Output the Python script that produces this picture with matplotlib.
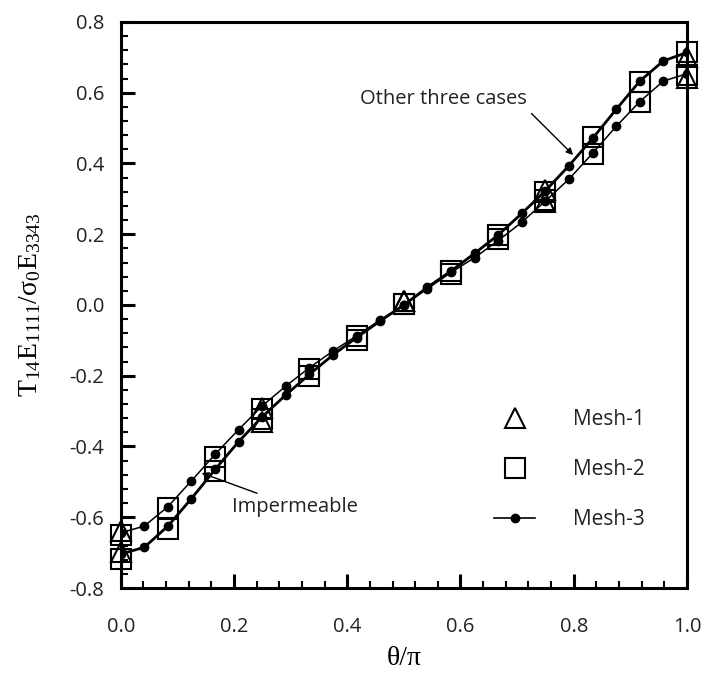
import numpy as np
import matplotlib
matplotlib.use("Agg")
import matplotlib.pyplot as plt
from matplotlib.lines import Line2D
from matplotlib.ticker import MultipleLocator, FuncFormatter

plt.rcParams['mathtext.fontset'] = 'custom'
plt.rcParams['mathtext.rm'] = 'Liberation Serif'
plt.rcParams['mathtext.it'] = 'Liberation Serif:italic'
plt.rcParams['font.family'] = ['Open Sans', 'DejaVu Sans']

# ---- data ----
# Mesh-3 (25 points, theta/pi = k/24)
mesh3_theta = [k / 24 for k in range(25)]
mesh3_other = [-0.704, -0.685, -0.625, -0.547, -0.465, -0.386, -0.316, -0.254,
               -0.196, -0.141, -0.092, -0.045, 0.0, 0.050, 0.096, 0.146, 0.198,
               0.259, 0.323, 0.394, 0.471, 0.553, 0.633, 0.690, 0.714]
mesh3_imperm = [-0.644, -0.625, -0.570, -0.497, -0.422, -0.352, -0.285, -0.229,
                -0.177, -0.130, -0.087, -0.042, 0.0, 0.046, 0.092, 0.134, 0.182,
                0.234, 0.294, 0.356, 0.429, 0.505, 0.575, 0.633, 0.654]
# Mesh-2 (13 points, theta/pi = k/12)
mesh2_theta = [k / 12 for k in range(13)]
mesh2_other = [-0.719, -0.632, -0.469, -0.322, -0.201, -0.099, 0.003, 0.097,
               0.198, 0.320, 0.474, 0.631, 0.716]
mesh2_imperm = [-0.650, -0.573, -0.429, -0.294, -0.180, -0.089, 0.003, 0.088,
                0.186, 0.297, 0.428, 0.575, 0.649]
# Mesh-1 (5 points)
mesh1_theta = [0.0, 0.25, 0.5, 0.75, 1.0]
mesh1_other = [-0.697, -0.330, 0.010, 0.325, 0.702]
mesh1_imperm = [-0.638, -0.290, 0.010, 0.290, 0.641]

legend_labels = ['Mesh-1', 'Mesh-2', 'Mesh-3']

fig = plt.figure(figsize=(7.07, 6.75), dpi=100)
ax = fig.add_axes([120.7 / 707, 1 - 588 / 675, (687 - 120.7) / 707, (588 - 22) / 675])

# Mesh-3 lines
ax.plot(mesh3_theta, mesh3_other, color='black', lw=2.0, marker='o', ms=6.0, zorder=3)
ax.plot(mesh3_theta, mesh3_imperm, color='black', lw=1.1, marker='o', ms=6.0, zorder=3)
# Mesh-2 squares
for ys in (mesh2_other, mesh2_imperm):
    ax.plot(mesh2_theta, ys, ls='none', marker='s', ms=14, mfc='none', mec='black',
            mew=1.5, zorder=4, clip_on=False)
# Mesh-1 triangles
for ys in (mesh1_other, mesh1_imperm):
    ax.plot(mesh1_theta, ys, ls='none', marker='^', ms=14, mfc='none', mec='black',
            mew=1.5, zorder=5, clip_on=False)

ax.set_xlim(0, 1.0)
ax.set_ylim(-0.8, 0.8)

for s in ax.spines.values():
    s.set_linewidth(2.2)

ax.xaxis.set_major_locator(MultipleLocator(0.2))
ax.xaxis.set_minor_locator(MultipleLocator(0.04))
ax.yaxis.set_major_locator(MultipleLocator(0.2))
ax.yaxis.set_minor_locator(MultipleLocator(0.04))
ax.tick_params(which='both', direction='in', top=False, right=False)
ax.tick_params(which='major', length=10, width=2.2, labelsize=14.5, labelcolor='#222222')
ax.tick_params(which='minor', length=5, width=1.5)
ax.tick_params(axis='x', which='major', pad=21)
ax.tick_params(axis='y', which='major', pad=12)
fmt = FuncFormatter(lambda v, p: ('%.1f' % v).replace('\u2212', '-') if abs(v) > 1e-9 else '0.0')
ax.xaxis.set_major_formatter(fmt)
ax.yaxis.set_major_formatter(fmt)

ax.set_xlabel('θ/π', family=['Liberation Serif', 'DejaVu Serif'], fontsize=20)
ax.xaxis.set_label_coords(0.5, -0.125)
ax.xaxis.label.set_va('center')
ax.set_ylabel(r'$\mathrm{T_{14}E_{1111}/\sigma_0E_{3343}}$', fontsize=20)
ax.yaxis.set_label_coords(-0.135, 0.5)

# annotations
ax.annotate('Impermeable', xy=(0.143, -0.475), xytext=(0.196, -0.571),
            ha='left', va='center', fontsize=14.5, color='#222222',
            arrowprops=dict(arrowstyle='-|>', color='black', lw=1.0, mutation_scale=10,
                            shrinkA=2, shrinkB=0))
ax.annotate('Other three cases', xy=(0.799, 0.424), xytext=(0.717, 0.583),
            ha='right', va='center', fontsize=14.5, color='#222222',
            arrowprops=dict(arrowstyle='-|>', color='black', lw=1.0, mutation_scale=10,
                            shrinkA=2, shrinkB=0, relpos=(1.0, 0.0)))

# legend
handles = [
    Line2D([], [], ls='none', marker='^', ms=14, mfc='none', mec='black', mew=1.5),
    Line2D([], [], ls='none', marker='s', ms=14, mfc='none', mec='black', mew=1.5),
    Line2D([], [], color='black', lw=1.2, marker='o', ms=6),
]
leg = ax.legend(handles, legend_labels, loc='upper left', bbox_to_anchor=(0.644, 0.331),
                frameon=False, fontsize=15, handlelength=2.0, handletextpad=1.8,
                labelspacing=1.4, borderaxespad=0)
for t in leg.get_texts():
    t.set_color('#222222')

fig.savefig('out.png', dpi=100)
